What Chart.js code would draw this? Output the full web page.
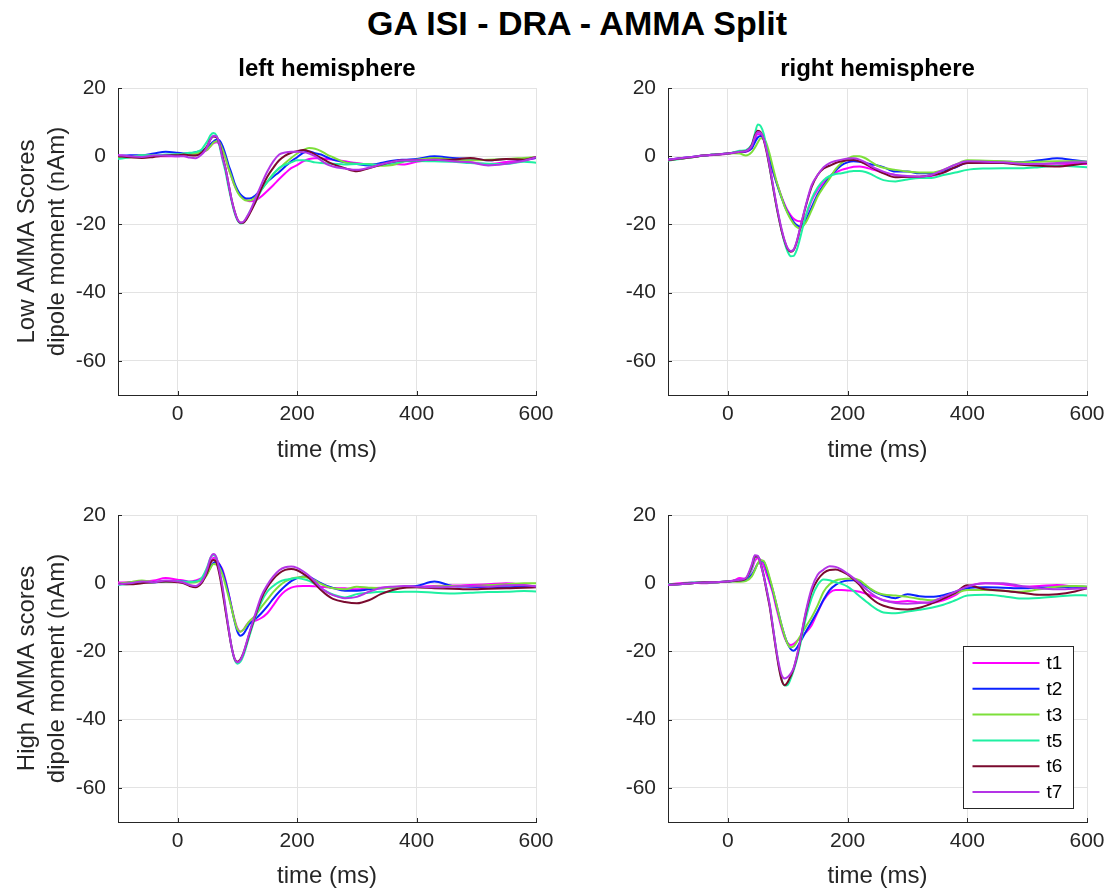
<!DOCTYPE html>
<html lang="en">
<head>
<meta charset="UTF-8">
<title>GA ISI - DRA - AMMA Split</title>
<script src="https://cdn.jsdelivr.net/npm/chart.js@4"></script>
<style>
  body { margin: 0; background: #fff; }
  .fig { position: relative; width: 1112px; height: 895px; overflow: hidden;
         font-family: "Liberation Sans", Arial, Helvetica, sans-serif; }
  .fig h1 { position: absolute; left: 577px; top: 3px; transform: translateX(-50%); margin: 0;
            font-size: 34px; line-height: 40px; font-weight: bold; color: #000; white-space: nowrap; }
  .fig canvas { position: absolute; }
</style>
</head>
<body>
<div class="fig">
  <h1>GA ISI - DRA - AMMA Split</h1>
  <canvas id="leftLow" width="561" height="470" style="left:0;top:0"></canvas>
  <canvas id="rightLow" width="556" height="470" style="left:556px;top:0"></canvas>
  <canvas id="leftHigh" width="561" height="425" style="left:0;top:470px"></canvas>
  <canvas id="rightHigh" width="556" height="425" style="left:556px;top:470px"></canvas>
</div>

<script>
// sample times (ms), shared by every trace
const times = [-100, -80, -60, -40, -20, 0, 10, 20, 30, 40,
  45, 50, 55, 60, 65, 70, 75, 80, 85, 90,
  95, 100, 105, 110, 115, 120, 130, 140, 150, 160,
  170, 180, 190, 200, 210, 220, 230, 240, 250, 260,
  280, 300, 320, 340, 360, 380, 400, 430, 460, 490,
  520, 550, 580, 600];

const seriesNames = ['t1', 't2', 't3', 't5', 't6', 't7'];
const seriesColors = ['#ff00ff', '#0a22ff', '#7ddf3a', '#1ff0a2', '#7a0a2e', '#b434e6'];
const xTicks = [0, 200, 400, 600];
const yTicks = [-60, -40, -20, 0, 20];

// low AMMA scores, left hemisphere
const leftLow_t1 = [0.3, 0.0, -0.3, 0.0, 0.0, 0.0, 0.3, 0.5, 0.5, 1.0,
  1.4, 2.0, 3.0, 3.8, 4.1, 3.5, 1.8, -0.5, -3.5, -6.0,
  -8.5, -10.3, -11.5, -12.3, -12.8, -13.2, -13.0, -11.8, -10.2, -8.5,
  -6.7, -5.0, -3.5, -2.6, -1.5, -0.8, -0.6, -0.6, -0.8, -1.0,
  -1.5, -2.0, -2.4, -2.3, -2.3, -2.4, -1.6, -1.2, -1.3, -1.8,
  -2.3, -1.7, -1.2, -0.5];
const leftLow_t2 = [0.0, 0.3, 0.3, 0.8, 1.3, 1.0, 0.8, 0.8, 1.2, 1.5,
  2.0, 2.5, 3.5, 4.3, 4.9, 4.6, 3.0, 0.5, -2.5, -5.0,
  -7.8, -9.8, -11.2, -12.0, -12.4, -12.4, -11.5, -9.5, -7.5, -6.0,
  -4.6, -3.0, -1.5, -0.3, 1.0, 1.4, 0.9, 0.5, -0.3, -1.0,
  -1.8, -2.3, -2.7, -2.0, -1.3, -1.0, -0.8, 0.0, -0.5, -0.8,
  -1.2, -0.8, -1.0, -0.5];
const leftLow_t3 = [-0.5, -0.3, 0.2, 0.2, 0.3, 0.5, 0.5, 0.5, 0.8, 1.2,
  1.5, 2.0, 3.0, 4.0, 4.4, 4.0, 2.0, -0.5, -3.5, -6.0,
  -8.5, -10.5, -11.8, -12.6, -13.0, -13.0, -12.0, -9.8, -7.5, -5.2,
  -3.6, -2.0, -0.5, 0.8, 1.8, 2.4, 2.2, 1.5, 0.5, -0.3,
  -1.8, -2.2, -2.3, -2.8, -2.6, -1.5, -1.0, -0.5, -1.0, -1.2,
  -1.0, -0.8, -0.5, -0.3];
const leftLow_t5 = [-0.8, -0.3, 0.3, 0.2, 0.5, 0.5, 0.8, 1.0, 1.2, 2.0,
  3.2, 4.5, 6.2, 6.8, 6.0, 3.0, -1.0, -4.5, -9.0, -13.0,
  -16.5, -18.8, -19.7, -19.5, -18.3, -16.5, -13.5, -10.0, -7.5, -5.3,
  -3.4, -2.5, -1.8, -1.2, -1.2, -1.4, -1.8, -2.0, -2.1, -2.2,
  -2.4, -2.3, -2.4, -2.5, -2.0, -1.5, -1.4, -1.5, -1.6, -2.0,
  -2.2, -2.3, -1.6, -1.9];
const leftLow_t6 = [0.0, -0.3, -0.5, -0.2, 0.2, 0.3, 0.5, 0.3, 0.2, 1.0,
  2.0, 3.2, 5.0, 5.8, 5.6, 3.5, 0.0, -3.5, -8.0, -12.5,
  -16.0, -18.5, -19.5, -19.5, -18.5, -17.0, -13.5, -9.5, -6.0, -3.4,
  -1.2, 0.2, 1.0, 1.5, 1.8, 1.4, 0.5, -0.5, -1.5, -2.3,
  -3.5, -4.4, -3.5, -2.5, -1.6, -1.2, -1.2, -1.0, -1.0, -0.5,
  -1.2, -0.8, -1.0, -0.2];
const leftLow_t7 = [0.3, 0.0, -0.2, 0.2, 0.2, 0.0, 0.0, -0.4, -0.6, 0.5,
  1.5, 3.0, 5.0, 6.0, 5.8, 3.5, -0.5, -3.5, -8.0, -12.5,
  -16.0, -18.5, -19.4, -19.2, -18.0, -16.5, -12.5, -8.3, -4.5, -1.5,
  0.5, 1.1, 1.3, 1.3, 1.2, 0.8, 0.0, -1.2, -2.4, -3.0,
  -3.6, -4.0, -3.4, -2.4, -1.6, -1.2, -1.2, -1.0, -1.5, -1.8,
  -2.7, -2.2, -1.3, -0.3];

// low AMMA scores, right hemisphere
const rightLow_t1 = [-1.0, -0.6, -0.2, 0.2, 0.4, 0.7, 1.0, 1.2, 1.3, 2.5,
  4.8, 6.5, 6.4, 4.8, 2.0, -1.5, -4.5, -7.0, -9.5, -12.0,
  -14.2, -16.0, -17.3, -18.3, -18.9, -19.1, -17.5, -13.0, -9.8, -7.6,
  -5.9, -4.8, -4.0, -3.5, -3.1, -3.0, -3.3, -3.8, -4.3, -4.8,
  -5.5, -6.0, -6.0, -5.8, -4.8, -3.2, -2.0, -2.0, -2.0, -2.2,
  -2.2, -2.2, -2.3, -2.3];
const rightLow_t2 = [-1.0, -0.6, -0.2, 0.2, 0.5, 0.8, 1.0, 1.2, 1.4, 2.3,
  4.0, 5.5, 5.9, 5.0, 2.5, -1.0, -4.0, -7.0, -9.8, -12.3,
  -14.6, -16.5, -18.0, -19.3, -20.2, -20.6, -18.8, -15.0, -11.2, -8.5,
  -6.2, -4.2, -2.6, -1.8, -1.5, -1.6, -2.0, -2.4, -2.7, -3.2,
  -4.5, -4.5, -5.0, -5.0, -4.2, -3.3, -1.8, -1.5, -1.6, -1.7,
  -1.2, -0.6, -1.2, -1.6];
const rightLow_t3 = [-1.2, -0.7, -0.3, 0.2, 0.5, 0.7, 0.9, 0.8, 0.2, 1.2,
  2.5, 4.0, 5.3, 5.2, 3.5, 0.5, -3.0, -6.5, -9.5, -12.2,
  -14.8, -16.8, -18.5, -19.8, -20.7, -21.1, -19.5, -15.8, -11.8, -9.0,
  -6.5, -3.8, -2.0, -0.8, 0.0, 0.0, -0.6, -1.7, -2.8, -3.4,
  -4.0, -4.5, -4.8, -4.8, -4.0, -2.5, -1.2, -1.3, -1.5, -1.8,
  -1.6, -1.5, -1.5, -1.6];
const rightLow_t5 = [-1.3, -0.8, -0.3, 0.2, 0.6, 0.8, 1.2, 1.6, 1.8, 3.5,
  6.5, 9.3, 8.8, 6.5, 2.0, -3.5, -8.5, -13.5, -18.0, -22.0,
  -25.5, -28.0, -29.3, -29.2, -27.5, -24.5, -17.5, -12.5, -9.2, -7.0,
  -5.8, -5.2, -5.0, -4.6, -4.3, -4.3, -4.6, -5.3, -6.3, -7.0,
  -7.4, -6.8, -6.4, -6.4, -5.5, -4.8, -4.0, -3.6, -3.5, -3.5,
  -3.2, -2.8, -3.0, -3.2];
const rightLow_t6 = [-1.2, -0.7, -0.3, 0.2, 0.5, 0.8, 1.0, 1.3, 1.5, 3.2,
  6.0, 7.5, 7.0, 4.8, 1.0, -3.5, -8.5, -13.5, -18.0, -22.0,
  -25.0, -27.2, -28.0, -27.5, -25.2, -21.8, -14.8, -9.0, -5.5, -3.6,
  -2.8, -2.0, -1.5, -1.2, -1.1, -1.5, -2.3, -3.3, -4.2, -5.0,
  -6.2, -6.0, -6.0, -5.6, -4.8, -3.2, -2.0, -1.9, -2.0, -2.5,
  -2.8, -3.0, -2.5, -2.0];
const rightLow_t7 = [-1.0, -0.6, -0.2, 0.2, 0.5, 0.8, 1.0, 1.3, 1.5, 3.0,
  5.5, 7.1, 6.8, 5.0, 1.5, -3.0, -8.0, -13.0, -17.5, -21.5,
  -24.8, -27.0, -27.8, -27.3, -25.0, -21.5, -14.5, -8.5, -5.5, -3.2,
  -2.0, -1.4, -1.0, -0.7, -0.6, -1.0, -1.8, -3.0, -3.8, -4.5,
  -5.5, -5.8, -6.0, -5.5, -4.0, -2.5, -1.5, -1.6, -1.8, -2.2,
  -2.3, -2.0, -1.8, -1.8];

// high AMMA scores, left hemisphere
const leftHigh_t1 = [0.2, 0.3, 0.5, 0.8, 1.5, 1.0, 0.8, 0.5, 0.8, 1.5,
  2.3, 3.5, 6.0, 7.5, 7.0, 5.5, 4.0, 1.0, -2.8, -6.8,
  -10.5, -13.2, -14.2, -13.6, -12.3, -11.3, -11.0, -10.2, -8.8, -6.5,
  -4.0, -2.3, -1.3, -0.9, -0.8, -0.8, -0.9, -1.0, -1.2, -1.4,
  -1.5, -1.8, -1.5, -1.3, -1.2, -1.0, -1.0, -0.8, -0.7, -0.5,
  -0.3, 0.0, -0.5, -1.0];
const leftHigh_t2 = [-0.3, 0.2, 0.4, 0.3, 0.6, 0.6, 0.5, 0.3, 0.5, 1.0,
  1.8, 3.0, 4.8, 6.0, 6.2, 5.5, 3.5, 0.5, -3.0, -7.0,
  -11.0, -14.2, -15.4, -14.9, -13.5, -12.0, -10.5, -8.8, -6.8, -4.5,
  -2.5, -0.8, 0.6, 1.5, 2.0, 1.8, 1.0, 0.0, -0.8, -1.4,
  -2.2, -2.2, -1.8, -1.5, -1.3, -1.0, -0.8, 0.5, -0.8, -1.0,
  -1.2, -1.2, -1.0, -1.0];
const leftHigh_t3 = [-0.2, 0.3, 0.8, 0.3, 0.5, 0.5, 0.3, 0.2, 0.3, 0.8,
  1.5, 2.8, 4.5, 5.6, 5.5, 4.5, 2.5, -0.5, -3.8, -7.2,
  -10.8, -13.5, -14.2, -13.6, -12.4, -11.2, -9.5, -7.0, -4.8, -2.6,
  -0.8, 0.5, 1.3, 1.7, 1.8, 1.5, 0.8, -0.2, -1.0, -1.5,
  -1.8, -1.0, -1.3, -1.5, -1.3, -1.2, -1.2, -1.0, -0.8, -0.8,
  -0.6, -0.3, 0.0, 0.0];
const leftHigh_t5 = [-0.5, -0.2, 0.2, 0.3, 0.5, 0.6, 0.5, 0.4, 0.5, 1.5,
  3.0, 5.0, 7.5, 8.3, 7.3, 3.5, -1.5, -7.5, -13.0, -18.5,
  -22.3, -23.6, -23.0, -21.2, -18.5, -15.5, -10.0, -5.5, -2.5, -0.8,
  0.4, 1.0, 1.3, 1.5, 1.2, 0.7, -0.3, -1.5, -2.5, -3.3,
  -4.2, -3.2, -2.8, -2.5, -2.6, -2.5, -2.5, -2.8, -3.0, -2.8,
  -2.6, -2.5, -2.3, -2.4];
const leftHigh_t6 = [-0.2, -0.3, 0.0, 0.3, 0.5, 0.3, 0.0, -0.8, -1.2, 0.0,
  1.5, 3.5, 6.0, 6.8, 6.0, 2.5, -2.5, -8.0, -13.5, -18.5,
  -22.0, -23.0, -22.3, -20.5, -17.8, -14.8, -9.5, -4.5, -1.2, 1.2,
  2.9, 3.9, 4.2, 3.8, 2.8, 1.5, -0.2, -2.0, -3.5, -4.6,
  -5.5, -5.9, -5.0, -3.2, -2.0, -1.3, -1.2, -1.5, -1.6, -1.8,
  -1.6, -1.5, -1.3, -1.2];
const leftHigh_t7 = [-0.3, 0.0, 0.5, 0.3, 0.8, 0.5, 0.2, -0.5, -0.8, 0.5,
  2.0, 4.5, 7.5, 8.6, 7.5, 3.5, -1.0, -7.0, -13.0, -18.5,
  -22.0, -23.2, -22.5, -20.5, -17.5, -14.5, -9.0, -3.8, -0.5, 2.0,
  3.8, 4.7, 4.9, 4.5, 3.5, 2.2, 0.5, -1.3, -2.6, -3.5,
  -4.4, -4.0, -2.5, -1.4, -1.0, -0.8, -1.0, -1.2, -1.0, -0.8,
  -1.0, -0.6, -0.6, -1.0];

// high AMMA scores, right hemisphere
const rightHigh_t1 = [-0.3, 0.0, 0.2, 0.0, 0.3, 0.5, 0.8, 1.5, 1.3, 4.0,
  6.5, 7.3, 6.8, 5.0, 2.5, 0.0, -2.8, -6.5, -10.0, -13.3,
  -16.0, -17.6, -18.1, -17.8, -17.0, -16.2, -14.5, -12.3, -8.5, -5.0,
  -2.8, -2.0, -2.0, -2.1, -2.2, -2.5, -3.0, -3.6, -4.3, -5.0,
  -5.5, -5.2, -5.6, -5.8, -5.0, -3.5, -1.0, 0.0, -0.3, -1.0,
  -0.8, -0.5, -1.0, -1.5];
const rightHigh_t2 = [-0.5, -0.3, 0.0, 0.2, 0.3, 0.5, 0.6, 0.7, 1.0, 2.5,
  4.0, 5.8, 6.6, 6.3, 4.0, 1.0, -2.0, -5.5, -9.0, -12.5,
  -15.5, -17.8, -19.3, -19.8, -19.0, -17.5, -14.3, -11.3, -8.2, -4.8,
  -2.0, -0.5, 0.4, 0.8, 0.9, 0.3, -0.8, -2.0, -3.0, -3.6,
  -4.4, -3.2, -3.8, -4.0, -3.5, -2.5, -1.5, -1.2, -1.3, -1.5,
  -1.3, -1.2, -1.0, -1.0];
const rightHigh_t3 = [-0.5, -0.3, 0.0, 0.2, 0.3, 0.5, 0.5, 0.4, 0.6, 2.0,
  3.8, 5.8, 6.7, 6.5, 4.5, 1.5, -1.8, -5.3, -9.0, -12.5,
  -15.5, -17.8, -18.8, -18.5, -17.3, -15.8, -12.8, -10.0, -6.5, -2.5,
  -0.3, 0.8, 1.2, 1.3, 1.4, 0.8, -0.5, -1.8, -2.8, -3.3,
  -3.6, -4.0, -4.6, -5.0, -4.2, -3.0, -2.0, -2.0, -2.2, -2.5,
  -1.8, -1.0, -0.8, -1.0];
const rightHigh_t5 = [-0.3, -0.2, 0.2, 0.3, 0.3, 0.5, 0.7, 0.8, 1.2, 4.5,
  7.5, 7.8, 5.8, 2.5, -2.0, -6.5, -12.5, -18.5, -24.0, -28.3,
  -30.0, -29.8, -28.0, -25.5, -22.5, -18.8, -10.5, -4.3, -0.5, 1.1,
  0.9, 0.3, -0.2, -1.0, -2.3, -3.8, -5.2, -6.6, -7.8, -8.6,
  -8.8, -8.3, -7.8, -7.2, -6.3, -5.0, -3.6, -3.4, -3.8, -4.5,
  -4.3, -3.9, -3.5, -3.6];
const rightHigh_t6 = [-0.5, -0.2, 0.0, 0.3, 0.3, 0.5, 0.7, 0.8, 1.3, 5.0,
  7.8, 7.8, 5.5, 2.0, -2.5, -7.0, -13.0, -19.0, -24.5, -28.5,
  -29.9, -29.0, -27.2, -25.0, -21.8, -17.8, -9.0, -2.5, 1.0, 3.0,
  3.9, 4.0, 3.5, 2.6, 1.2, -0.5, -2.8, -4.5, -5.8, -6.6,
  -7.5, -7.7, -7.2, -6.0, -4.5, -2.8, -0.6, -1.8, -2.2, -2.8,
  -3.4, -3.2, -2.4, -1.5];
const rightHigh_t7 = [-0.5, -0.3, 0.0, 0.2, 0.3, 0.5, 0.8, 1.0, 1.5, 5.5,
  8.2, 8.0, 5.5, 2.0, -2.0, -6.5, -12.5, -18.5, -23.5, -27.0,
  -27.9, -27.5, -26.5, -24.8, -21.5, -17.5, -8.5, -1.5, 2.5, 4.0,
  5.0, 4.8, 4.0, 2.8, 1.5, 0.0, -1.6, -3.0, -4.2, -5.0,
  -5.8, -6.0, -5.8, -5.5, -4.0, -2.5, -1.0, 0.0, 0.0, -0.8,
  -1.5, -1.8, -1.6, -1.5];

const fontFamily = '"Liberation Sans", Arial, Helvetica, sans-serif';
const axisColor = '#262626';
const gridColor = '#e3e3e3';

Chart.defaults.font.family = fontFamily;

// small tick marks pointing into the plot on the left and bottom axes
const innerTicks = {
  id: 'innerTicks',
  beforeDatasetsDraw(chart) {
    const ctx = chart.ctx;
    const area = chart.chartArea;
    const xs = chart.scales.x, ys = chart.scales.y;
    ctx.save();
    ctx.strokeStyle = axisColor;
    ctx.lineWidth = 1;
    ctx.beginPath();
    ys.ticks.forEach(function (t) {
      const py = Math.round(ys.getPixelForValue(t.value)) + 0.5;
      ctx.moveTo(area.left, py);
      ctx.lineTo(area.left + 4, py);
    });
    xs.ticks.forEach(function (t) {
      const px = Math.round(xs.getPixelForValue(t.value)) + 0.5;
      ctx.moveTo(px, area.bottom);
      ctx.lineTo(px, area.bottom - 4);
    });
    ctx.stroke();
    ctx.restore();
  }
};

// boxed legend in the lower right corner of the plot
const boxLegend = {
  id: 'boxLegend',
  afterDraw(chart, args, opts) {
    if (!opts.show) return;
    const ctx = chart.ctx;
    const area = chart.chartArea;
    const w = 110, h = 162, rowH = 25.8;
    const left = Math.round(area.right - 14 - w) + 0.5;
    const top = Math.round(area.bottom - 14 - h) + 0.5;
    ctx.save();
    ctx.fillStyle = '#fff';
    ctx.fillRect(left, top, w, h);
    ctx.strokeStyle = axisColor;
    ctx.lineWidth = 1;
    ctx.strokeRect(left, top, w, h);
    ctx.font = '19px ' + fontFamily;
    ctx.textBaseline = 'middle';
    chart.data.datasets.forEach(function (ds, i) {
      const cy = top + 16.5 + i * rowH;
      ctx.strokeStyle = ds.borderColor;
      ctx.lineWidth = 2;
      ctx.beginPath();
      ctx.moveTo(left + 9, cy);
      ctx.lineTo(left + 76, cy);
      ctx.stroke();
      ctx.fillStyle = '#000';
      ctx.fillText(ds.label, left + 83, cy + 1);
    });
    ctx.restore();
  }
};

function buildDatasets(series) {
  return series.map(function (vals, i) {
    return {
      label: seriesNames[i],
      data: times.map(function (t, k) { return { x: t, y: vals[k] }; }),
      borderColor: seriesColors[i],
      backgroundColor: seriesColors[i],
      borderWidth: 2,
      pointRadius: 0,
      fill: false,
      cubicInterpolationMode: 'monotone',
      order: series.length - i
    };
  });
}

function makePanel(id, series, cfg) {
  return new Chart(document.getElementById(id), {
    type: 'line',
    data: { datasets: buildDatasets(series) },
    options: {
      responsive: false,
      animation: false,
      layout: { autoPadding: false, padding: { top: cfg.padTop, right: 25, left: 0, bottom: 0 } },
      plugins: {
        legend: { display: false },
        tooltip: { enabled: false },
        title: {
          display: !!cfg.title,
          text: cfg.title || '',
          fullSize: false,
          color: '#000',
          font: { size: 24, weight: 'bold', lineHeight: 1.2 },
          padding: { top: 0, bottom: 4 }
        },
        boxLegend: { show: !!cfg.legend }
      },
      scales: {
        x: {
          type: 'linear',
          min: -100,
          max: 600,
          afterBuildTicks: function (s) { s.ticks = xTicks.map(function (v) { return { value: v }; }); },
          afterFit: function (s) { s.height = cfg.xHeight; },
          grid: { color: gridColor, drawTicks: false },
          border: { color: axisColor, width: 1 },
          ticks: { color: axisColor, font: { size: 21 }, padding: 7, maxRotation: 0, autoSkip: false },
          title: {
            display: true,
            text: 'time (ms)',
            color: axisColor,
            font: { size: 24, lineHeight: 1.2 },
            padding: { top: 0, bottom: cfg.xTitlePad }
          }
        },
        y: {
          type: 'linear',
          min: -70,
          max: 20,
          afterBuildTicks: function (s) { s.ticks = yTicks.map(function (v) { return { value: v }; }); },
          afterFit: function (s) { s.width = cfg.yWidth; },
          grid: { color: gridColor, drawTicks: false },
          border: { color: axisColor, width: 1 },
          ticks: { color: axisColor, font: { size: 21 }, padding: 12, autoSkip: false },
          title: {
            display: !!cfg.yTitle,
            text: cfg.yTitle || '',
            color: axisColor,
            font: { size: 24, lineHeight: 1.25 },
            padding: { top: 12, bottom: 0 }
          }
        }
      }
    },
    plugins: [innerTicks, boxLegend]
  });
}

makePanel('leftLow',
  [leftLow_t1, leftLow_t2, leftLow_t3, leftLow_t5, leftLow_t6, leftLow_t7],
  { title: 'left hemisphere', yTitle: ['Low AMMA Scores', 'dipole moment (nAm)'],
    padTop: 55.2, yWidth: 118, xHeight: 75, xTitlePad: 5.6 });

makePanel('rightLow',
  [rightLow_t1, rightLow_t2, rightLow_t3, rightLow_t5, rightLow_t6, rightLow_t7],
  { title: 'right hemisphere',
    padTop: 55.2, yWidth: 112, xHeight: 75, xTitlePad: 5.6 });

makePanel('leftHigh',
  [leftHigh_t1, leftHigh_t2, leftHigh_t3, leftHigh_t5, leftHigh_t6, leftHigh_t7],
  { yTitle: ['High AMMA scores', 'dipole moment (nAm)'],
    padTop: 45, yWidth: 118, xHeight: 73, xTitlePad: 4.6 });

makePanel('rightHigh',
  [rightHigh_t1, rightHigh_t2, rightHigh_t3, rightHigh_t5, rightHigh_t6, rightHigh_t7],
  { legend: true,
    padTop: 45, yWidth: 112, xHeight: 73, xTitlePad: 4.6 });
</script>
</body>
</html>
